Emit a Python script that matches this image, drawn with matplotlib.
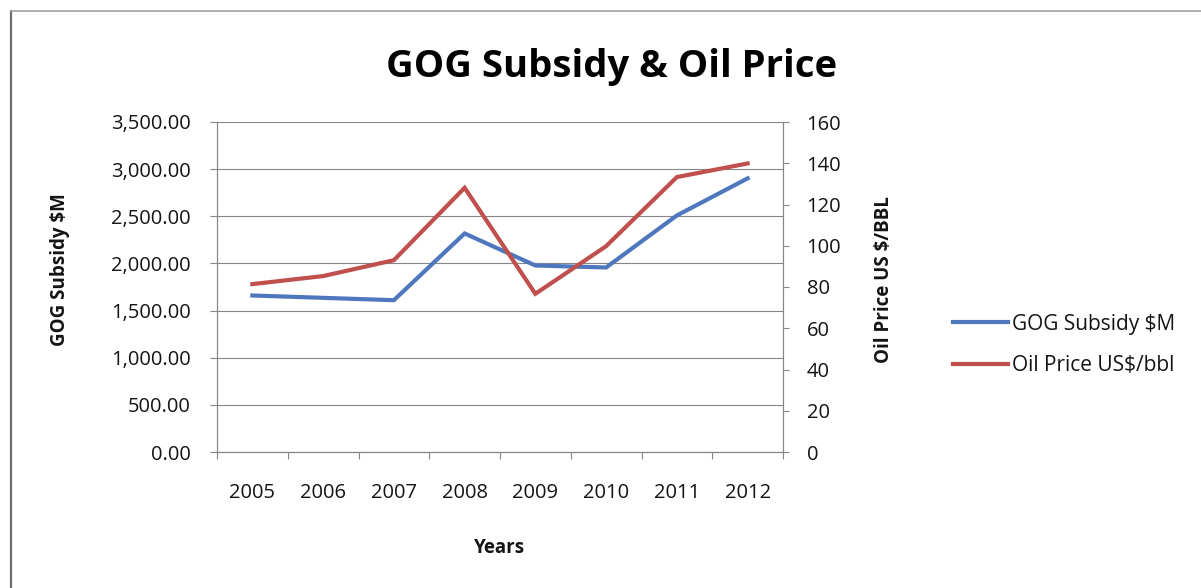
import matplotlib
matplotlib.use("Agg")
import matplotlib.pyplot as plt
from matplotlib.lines import Line2D
from matplotlib.ticker import FixedLocator, FuncFormatter

# Data
years = ["2005", "2006", "2007", "2008", "2009", "2010", "2011", "2012"]
subsidy_musd = [1660, 1635, 1610, 2318, 1978, 1957, 2509, 2902]
oil_price_usd_bbl = [81.4, 85.3, 93.0, 128.1, 76.7, 99.8, 133.3, 139.9]

left_ticks = [0, 500, 1000, 1500, 2000, 2500, 3000, 3500]
right_ticks = [0, 20, 40, 60, 80, 100, 120, 140, 160]

FONT = "Open Sans"
BLUE = "#4F77BE"
RED = "#C0504D"
GRID = "#868686"
TEXT = "#141414"
TICK_SIZE = 14.5

W, H = 1201, 588
fig = plt.figure(figsize=(W / 100, H / 100), dpi=100)
fig.patch.set_facecolor("white")

def fx(px):
    return px / W

def fy(py):
    return 1 - py / H

# Outer frame (left and top edges)
fig.add_artist(Line2D([fx(11), fx(11)], [fy(11), 0], color="#6e6e6e", lw=1.6))
fig.add_artist(Line2D([fx(11), 1], [fy(11), fy(11)], color="#a0a0a0", lw=1.2))

ax_l, ax_r, ax_t, ax_b = 217, 783, 122, 452
ax = fig.add_axes([fx(ax_l), fy(ax_b), (ax_r - ax_l) / W, (ax_b - ax_t) / H])
ax2 = ax.twinx()

x = list(range(len(years)))
l1, = ax.plot(x, subsidy_musd, color=BLUE, lw=3.0, solid_joinstyle="miter",
              label="GOG Subsidy $M", zorder=3)
l2, = ax2.plot(x, oil_price_usd_bbl, color=RED, lw=3.0, solid_joinstyle="miter",
               label="Oil Price US$/bbl", zorder=3)

ax.set_xlim(-0.5, len(years) - 0.5)
ax.set_ylim(0, 3500)
ax2.set_ylim(0, 160)

# Category axis: ticks between categories, labels centred on them
ax.xaxis.set_major_locator(FixedLocator([i - 0.5 for i in range(len(years) + 1)]))
ax.xaxis.set_major_formatter(FuncFormatter(lambda v, p: ""))
ax.xaxis.set_minor_locator(FixedLocator(x))
ax.set_xticklabels(years, minor=True)
ax.tick_params(axis="x", which="major", direction="out", length=5, width=0.8, color=GRID)
ax.tick_params(axis="x", which="minor", length=0, pad=22, labelsize=TICK_SIZE, labelcolor=TEXT)

ax.set_yticks(left_ticks)
ax.set_yticklabels([f"{v:,.2f}" for v in left_ticks])
ax.tick_params(axis="y", direction="out", length=5, width=0.8, color=GRID, pad=14,
               labelsize=TICK_SIZE, labelcolor=TEXT)

ax2.set_yticks(right_ticks)
ax2.tick_params(axis="y", direction="out", length=4, width=0.8, color=GRID, pad=13,
                labelsize=TICK_SIZE, labelcolor=TEXT)

for lab in ax.get_xticklabels(minor=True) + ax.get_yticklabels() + ax2.get_yticklabels():
    lab.set_fontfamily(FONT)

ax.grid(axis="y", color=GRID, lw=0.8)
ax.set_axisbelow(True)
for a in (ax, ax2):
    a.spines["top"].set_visible(False)
    for s in ("left", "right", "bottom"):
        a.spines[s].set_color(GRID)
        a.spines[s].set_linewidth(0.8)
    a.set_facecolor("none")

# Titles and axis labels
fig.text(fx(612), fy(77), "GOG Subsidy & Oil Price", ha="center", va="baseline",
         fontsize=27.5, fontweight="bold", fontfamily=FONT, color="black")
fig.text(fx(500), fy(548), "Years", ha="center", va="center",
         fontsize=13.5, fontweight="bold", fontfamily=FONT, color=TEXT)
fig.text(fx(60), fy(270), "GOG Subsidy $M", ha="center", va="center", rotation=90,
         fontsize=13.5, fontweight="bold", fontfamily=FONT, color=TEXT)
fig.text(fx(884), fy(280), "Oil Price US $/BBL", ha="center", va="center", rotation=90,
         fontsize=13.5, fontweight="bold", fontfamily=FONT, color=TEXT)

leg = fig.legend(handles=[l1, l2], loc="center left",
                 bbox_to_anchor=(fx(943), fy(345)), frameon=False,
                 prop={"family": FONT, "size": 15}, handlelength=2.6,
                 handletextpad=0.2, labelspacing=1.0, borderpad=0)
for t in leg.get_texts():
    t.set_color(TEXT)

fig.savefig("out.png", dpi=100, facecolor="white")
